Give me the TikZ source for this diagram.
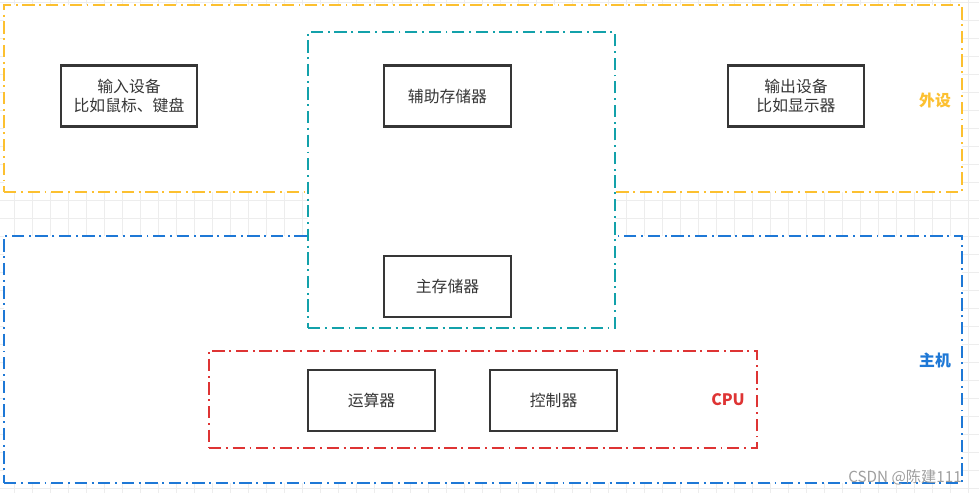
\documentclass[tikz,border=0pt]{standalone}
\usepackage{fontspec}
\newfontfamily\cjk{Noto Sans CJK SC}
\usetikzlibrary{positioning}
\definecolor{periph}{HTML}{FCC030}
\definecolor{host}{HTML}{1E78D6}
\definecolor{memc}{HTML}{13A1AA}
\definecolor{cpuc}{HTML}{DE3434}
\definecolor{gridc}{HTML}{EDEDED}
\definecolor{unitc}{HTML}{363636}
\tikzset{
  every node/.style = {font = \cjk\fontsize{13.5}{16}\selectfont},
  group/.style = {draw, fill = white, line width = 1.9pt,
    dash pattern = on 10.5pt off 4pt on 1.6pt off 4pt},
  unit/.style = {draw = unitc, fill = white, line width = 1.8pt, align = center,
    text = unitc, minimum width = 3.81cm, minimum height = 1.83cm},
  wide unit/.style = {unit, minimum width = 4.08cm},
  tag/.style = {font = \cjk\bfseries\fontsize{13.5}{16}\selectfont}
}
\begin{document}
\begin{tikzpicture}
\useasboundingbox [fill = white] (0,0) rectangle (29.37,-14.79);

\foreach \x in {0,...,54}
  \draw [gridc, line width = 0.5pt] ({0.42+0.54*\x},0) -- ({0.42+0.54*\x},-14.79);
\foreach \y in {0,...,27}
  \draw [gridc, line width = 0.5pt] (0,{-0.06-0.54*\y}) -- (29.37,{-0.06-0.54*\y});

\node [group, draw = periph, minimum width = 28.74cm, minimum height = 5.61cm]
  (periphery) at (14.49,-2.955) {};
\node [group, draw = host, minimum width = 28.74cm, minimum height = 7.41cm]
  (mainframe) at (14.49,-10.785) {};
\node [group, draw = memc, minimum width = 9.21cm, minimum height = 8.88cm]
  (storage) at (13.845,-5.4) {};
\node [group, draw = cpuc, minimum width = 16.44cm, minimum height = 2.91cm]
  (cpu) at (14.49,-11.985) {};

\node [wide unit] (input) at (3.87,-2.88) {输入设备\\比如鼠标、键盘};
\node [unit] (aux) at (13.425,-2.88) {辅助存储器};
\node [wide unit] (output) at (23.88,-2.88) {输出设备\\比如显示器};
\node [unit] (mem) [below = 3.81cm of aux] {主存储器};
\node [unit] (alu) at (11.145,-12.015) {运算器};
\node [unit] (ctrl) [right = 1.59cm of alu] {控制器};

\node [tag, text = periph] (periph label) at (28.05,-3.0) {外设};
\node [tag, text = host] (host label) at (28.05,-10.8) {主机};
\node [tag, text = cpuc] (cpu label) at (21.84,-12.0) {CPU};

\node [text = gray!75, font = \cjk\fontsize{13}{15}\selectfont] (mark)
  at (27.15,-14.31) {CSDN @陈建111};

\end{tikzpicture}
\end{document}
